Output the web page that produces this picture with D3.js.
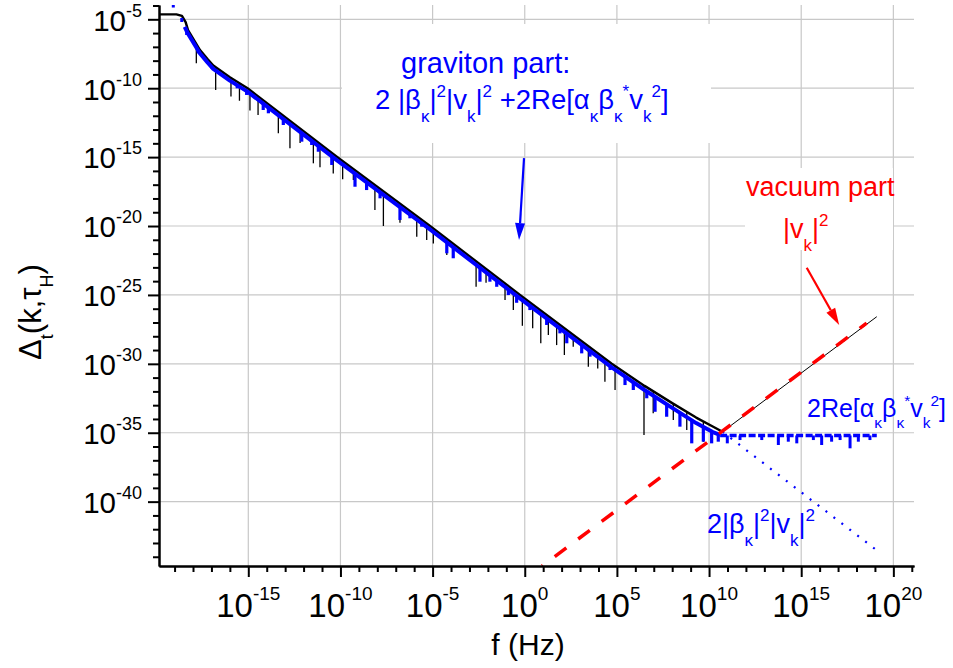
<!DOCTYPE html>
<html>
<head>
<meta charset="utf-8">
<script src="https://cdn.jsdelivr.net/npm/d3@7"></script>
<style>
  body { margin: 0; background: #fff; }
  text { font-family: "Liberation Sans", Arial, sans-serif; white-space: pre; }
</style>
</head>
<body>
<svg id="chart" width="953" height="668"></svg>
<script>
// every series is [log10 f (Hz), log10 Δ]
const xMajor = [-15, -10, -5, 0, 5, 10, 15, 20];
const yMajor = [-5, -10, -15, -20, -25, -30, -35, -40];

// upper edge of the total spectrum (black)
const blackTop = [
  [-19.85, -4.64], [-18.9, -4.64], [-18.6, -4.75], [-18.4, -5.2], [-18.27, -5.78],
  [-17.62, -7.23], [-17.2, -7.9], [-16.9, -8.35], [-16.0, -9.2], [-15.04, -10.0],
  [-10.2, -14.97], [-5.14, -20.0], [-0.26, -25.0], [4.72, -30.0], [6.5, -31.6],
  [8.0, -32.85], [9.3, -33.9], [10.2, -34.55], [10.73, -34.93]
];
const blackRight = [[10.73, -34.93], [19.1, -26.58]];
// tips of the black downward spikes
const blackSpikes = [
  [-17.82, -8.19], [-16.77, -10.13], [-15.94, -10.6], [-15.48, -10.91], [-14.91, -11.62],
  [-14.47, -11.94], [-13.37, -13.27], [-12.74, -14.36], [-12.19, -13.98], [-11.47, -15.45],
  [-11.11, -15.74], [-10.39, -16.18], [-9.88, -16.61], [-9.3, -16.66], [-8.13, -18.84],
  [-7.67, -20.0], [-6.77, -19.76], [-5.86, -20.78], [-5.32, -21.02], [-4.96, -21.26],
  [-4.23, -22.1], [-2.64, -24.4], [-2.1, -24.11], [-1.07, -25.37], [-0.62, -26.1],
  [-0.13, -27.24], [0.43, -27.42], [0.87, -28.51], [1.28, -27.91], [1.73, -28.64],
  [2.15, -29.36], [2.63, -28.76], [3.45, -30.21], [3.96, -30.33], [4.35, -31.3],
  [4.9, -31.9], [6.47, -35.17], [6.97, -33.59], [8.06, -34.08], [8.79, -34.8], [9.69, -35.65]
];

// graviton part (blue)
const blueTop = [
  [-18.45, -5.55], [-18.27, -6.05], [-17.62, -7.48], [-17.2, -8.15], [-16.9, -8.6],
  [-16.0, -9.45], [-15.04, -10.25], [-10.2, -15.22], [-5.14, -20.25], [-0.26, -25.25],
  [4.72, -30.25], [6.5, -31.9], [8.0, -33.2], [9.3, -34.3], [10.2, -34.95], [10.6, -35.15]
];
const blueSpikes = [
  [-18.34, -6.14], [-17.71, -7.47], [-16.99, -8.56], [-16.36, -9.04], [-15.6, -10.01],
  [-15.09, -10.49], [-14.19, -11.58], [-13.91, -11.82], [-13.1, -12.67], [-12.1, -13.88],
  [-11.56, -14.12], [-11.2, -14.61], [-10.47, -15.57], [-9.21, -17.15], [-8.58, -17.39],
  [-7.85, -17.99], [-6.77, -19.56], [-6.23, -19.44], [-5.59, -20.05], [-4.23, -21.98],
  [-3.88, -22.34], [-2.43, -24.04], [-1.89, -24.04], [-1.52, -24.41], [-0.89, -25.01],
  [-0.44, -25.57], [0.28, -26.1], [1.19, -27.18], [1.91, -27.79], [2.28, -28.51],
  [3.09, -29.24], [3.54, -29.48], [4.63, -30.45], [5.44, -31.54], [5.89, -31.9],
  [6.62, -32.5], [7.07, -33.48], [7.7, -33.84], [8.42, -34.56], [9.06, -35.77],
  [9.69, -35.65], [10.14, -35.77], [10.5, -35.65]
];
const blueDots = [[-19.07, -4.0], [-18.61, -5.05]];

// 2Re[α β* v²] band and its spikes
const reBand = [[10.6, -35.2], [19.1, -35.2]];
const reSpikes = [
  [10.99, -35.77], [11.68, -35.53], [12.86, -35.53], [13.76, -35.89], [14.3, -35.65],
  [14.76, -35.77], [15.66, -35.53], [16.11, -35.89], [16.65, -35.65], [17.11, -35.53],
  [17.65, -36.13], [18.1, -35.65], [18.73, -35.53]
];

// 2|β|²|v|² (dotted) and vacuum |v|² (dashed)
const betaPart = [[10.73, -34.93], [19.08, -43.51]];
const vacuumPart = [[0.94, -44.67], [18.55, -27.05]];

// annotation arrows: [from, to]
const blueArrow = [[-0.04, -15.07], [-0.31, -21.02]];
const redArrow = [[15.3, -23.03], [17.06, -27.18]];

const mL = 159, mR = 914, mT = 5, mB = 566;
const p = e => Math.pow(10, e);

const svg = d3.select('#chart');
const x = d3.scaleLog().domain([p(-19.845), p(21.12)]).range([mL, mR]);
const y = d3.scaleLog().domain([p(-44.67), p(-3.962)]).range([mB, mT]);
const X = d => x(p(d[0])), Y = d => y(p(d[1]));

const BLUE = '#0000ff', RED = '#ff0000';

// grid
const grid = svg.append('g').attr('stroke', '#c8c8c8').attr('stroke-width', 1.2);
grid.selectAll('.gx').data(xMajor).enter().append('line')
  .attr('x1', d => x(p(d))).attr('x2', d => x(p(d))).attr('y1', mT).attr('y2', mB);
grid.selectAll('.gy').data(yMajor).enter().append('line')
  .attr('x1', mL).attr('x2', mR).attr('y1', d => y(p(d))).attr('y2', d => y(p(d)));

// white label boxes hiding the grid
svg.append('rect').attr('x', 342).attr('y', 24).attr('width', 369).attr('height', 119).attr('fill', '#fff');
svg.append('rect').attr('x', 745).attr('y', 168).attr('width', 148).attr('height', 82).attr('fill', '#fff');

svg.append('clipPath').attr('id', 'clip').append('rect')
  .attr('x', mL).attr('y', mT).attr('width', mR - mL).attr('height', mB - mT);
const plot = svg.append('g').attr('clip-path', 'url(#clip)');
const line = d3.line().x(X).y(Y);

// black total
const blackAt = d3.scaleLinear().domain(blackTop.map(d => d[0])).range(blackTop.map(d => d[1]));
plot.selectAll('.bs').data(blackSpikes).enter().append('line')
  .attr('x1', X).attr('x2', X).attr('y1', Y).attr('y2', d => y(p(blackAt(d[0]))))
  .attr('stroke', '#000').attr('stroke-width', 1.3);
plot.append('path').datum(blackTop).attr('d', line)
  .attr('fill', 'none').attr('stroke', '#000').attr('stroke-width', 2.4).attr('stroke-linejoin', 'round');
plot.append('path').datum(blackRight).attr('d', line)
  .attr('fill', 'none').attr('stroke', '#000').attr('stroke-width', 1);

// blue graviton part
const blueAt = d3.scaleLinear().domain(blueTop.map(d => d[0])).range(blueTop.map(d => d[1]));
plot.append('path').datum(blueTop).attr('d', line)
  .attr('fill', 'none').attr('stroke', BLUE).attr('stroke-width', 4).attr('stroke-linejoin', 'round');
plot.selectAll('.bls').data(blueSpikes).enter().append('line')
  .attr('x1', X).attr('x2', X).attr('y1', Y).attr('y2', d => y(p(blueAt(d[0]))))
  .attr('stroke', BLUE).attr('stroke-width', 3.2);
plot.selectAll('.bd').data(blueDots).enter().append('rect')
  .attr('x', d => X(d) - 1.5).attr('y', d => Y(d) - 2).attr('width', 3).attr('height', 4).attr('fill', BLUE);

plot.append('path').datum(reBand).attr('d', line)
  .attr('fill', 'none').attr('stroke', BLUE).attr('stroke-width', 3.5).attr('stroke-dasharray', '7,2.5');
plot.selectAll('.rs').data(reSpikes).enter().append('line')
  .attr('x1', X).attr('x2', X).attr('y1', Y).attr('y2', y(p(reBand[0][1])))
  .attr('stroke', BLUE).attr('stroke-width', 3);

plot.append('path').datum(betaPart).attr('d', line)
  .attr('fill', 'none').attr('stroke', BLUE).attr('stroke-width', 2.2).attr('stroke-dasharray', '2,8');

plot.append('path').datum(vacuumPart).attr('d', line)
  .attr('fill', 'none').attr('stroke', RED).attr('stroke-width', 3.5)
  .attr('stroke-dasharray', '14.5,14.8').attr('stroke-dashoffset', 13.5);

// axes
const xMinor = d3.range(-19, 22).filter(e => !xMajor.includes(e)).map(p);
const yMinor = d3.range(-44, -3).filter(e => !yMajor.includes(e)).map(p);
function styleAxis(g) {
  g.selectAll('path, line').attr('stroke', '#000').attr('stroke-width', 2);
  g.selectAll('text').remove();
}
svg.append('g').attr('transform', `translate(0,${mB})`)
  .call(d3.axisBottom(x).tickValues(xMinor).tickSize(6).tickSizeOuter(0).tickFormat('')).call(styleAxis);
svg.append('g').attr('transform', `translate(0,${mB})`)
  .call(d3.axisBottom(x).tickValues(xMajor.map(p)).tickSize(11).tickSizeOuter(0).tickFormat('')).call(styleAxis);
svg.append('g').attr('transform', `translate(${mL},0)`)
  .call(d3.axisLeft(y).tickValues(yMinor).tickSize(6).tickSizeOuter(0).tickFormat('')).call(styleAxis);
svg.append('g').attr('transform', `translate(${mL},0)`)
  .call(d3.axisLeft(y).tickValues(yMajor.map(p)).tickSize(11).tickSizeOuter(0).tickFormat('')).call(styleAxis);

// rich text helper: parts = [[string, 'n'|'sub'|'sup'], ...]
function rich(g, px, py, parts, o) {
  const t = g.append('text').attr('x', px).attr('y', py).attr('fill', o.fill || '#000')
    .attr('font-size', o.size).attr('text-anchor', o.anchor || 'start');
  if (o.transform) t.attr('transform', o.transform);
  let cur = 0;
  parts.forEach(([s, k]) => {
    const target = k === 'sub' ? o.sub : k === 'sup' ? -o.sup : 0;
    t.append('tspan').attr('dy', target - cur)
      .attr('font-size', k === 'n' ? o.size : o.small).text(s);
    cur = target;
  });
  return t;
}

xMajor.forEach(e => rich(svg, x(p(e)), 617, [['10', 'n'], [String(e), 'sup']],
  { size: 33, small: 19, sup: 17, sub: 0, anchor: 'middle' }));
yMajor.forEach(e => rich(svg, 142, y(p(e)) + 11.3, [['10', 'n'], [String(e), 'sup']],
  { size: 29.5, small: 18, sup: 14, sub: 0, anchor: 'end' }));

svg.append('text').attr('x', 528).attr('y', 655).attr('text-anchor', 'middle')
  .attr('font-size', 30).text('f (Hz)');
rich(svg, 0, 0, [['Δ', 'n'], ['t', 'sub'], ['(k,τ', 'n'], ['H', 'sub'], [')', 'n']],
  { size: 31, small: 18, sub: 12, sup: 0, anchor: 'middle', transform: 'translate(41,312) rotate(-90)' });

// annotations
const lab = { size: 27, small: 17, sub: 13, sup: 12 };
rich(svg, 401, 73, [['graviton part:', 'n']], Object.assign({}, lab, { fill: BLUE, size: 29 }));
rich(svg, 375, 109, [['2 |β', 'n'], ['κ', 'sub'], ['|', 'n'], ['2', 'sup'], ['|v', 'n'], ['k', 'sub'],
  ['|', 'n'], ['2', 'sup'], [' +2Re[α', 'n'], ['κ', 'sub'], ['β', 'n'], ['κ', 'sub'], ['*', 'sup'],
  ['v', 'n'], ['k', 'sub'], ['2', 'sup'], [']', 'n']], Object.assign({}, lab, { fill: BLUE, size: 27.5 }));
rich(svg, 746, 196, [['vacuum part', 'n']], Object.assign({}, lab, { fill: RED }));
rich(svg, 783, 238, [['|v', 'n'], ['k', 'sub'], ['|', 'n'], ['2', 'sup']], Object.assign({}, lab, { fill: RED }));
rich(svg, 807, 417, [['2Re[α', 'n'], ['κ', 'sub'], ['β', 'n'], ['κ', 'sub'], ['*', 'sup'],
  ['v', 'n'], ['k', 'sub'], ['2', 'sup'], [']', 'n']],
  Object.assign({}, lab, { fill: BLUE, size: 25, small: 15.5, sub: 11, sup: 11 }));
rich(svg, 707, 533, [['2|β', 'n'], ['κ', 'sub'], ['|', 'n'], ['2', 'sup'], ['|v', 'n'], ['k', 'sub'],
  ['|', 'n'], ['2', 'sup']], Object.assign({}, lab, { fill: BLUE }));

function arrow(a, color) {
  const x1 = X(a[0]), y1 = Y(a[0]), x2 = X(a[1]), y2 = Y(a[1]);
  const ang = Math.atan2(y2 - y1, x2 - x1), L = 17, Wd = 5;
  const bx = x2 - L * Math.cos(ang), by = y2 - L * Math.sin(ang);
  svg.append('line').attr('x1', x1).attr('y1', y1).attr('x2', bx).attr('y2', by)
    .attr('stroke', color).attr('stroke-width', 2.2);
  const px = -Math.sin(ang) * Wd, py = Math.cos(ang) * Wd;
  svg.append('path').attr('d', `M${x2},${y2}L${bx + px},${by + py}L${bx - px},${by - py}Z`).attr('fill', color);
}
arrow(blueArrow, BLUE);
arrow(redArrow, RED);
</script>
</body>
</html>
